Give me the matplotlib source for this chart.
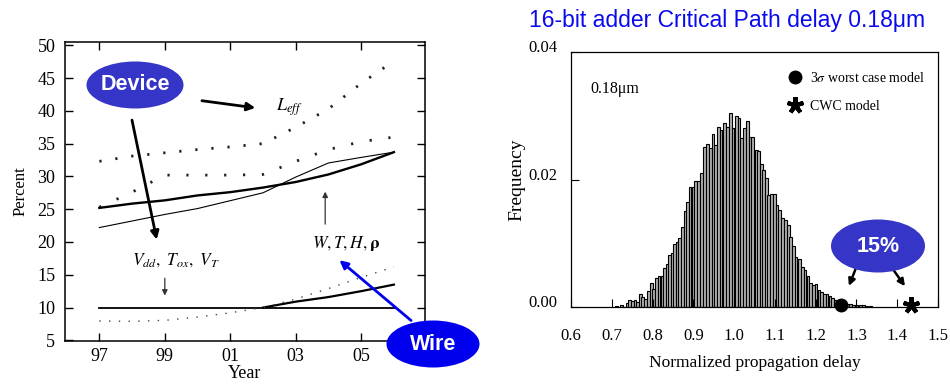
import numpy as np
import matplotlib
matplotlib.use("Agg")
from matplotlib import pyplot as plt
from matplotlib.patches import Ellipse
from matplotlib.transforms import ScaledTranslation

plt.rcParams['font.family'] = ['Liberation Serif', 'DejaVu Serif']
plt.rcParams['mathtext.fontset'] = 'stix'

# left chart: percent variation per year (97 .. 06)
jahre = [97, 98, 99, 100, 101, 102, 103, 104, 105, 106]
jahr_ticks = [97, 99, 101, 103, 105]
jahr_labels = ["97", "99", "01", "03", "05"]
leff = [32.3, 33.1, 33.6, 34.1, 34.5, 35.0, 37.5, 40.3, 44.2, 47.6]
mitte_punkte = [25.3, 27.6, 30.2, 30.2, 30.2, 30.3, 32.3, 34.1, 35.3, 36.0]
dick = [25.2, 25.85, 26.35, 27.1, 27.6, 28.3, 29.15, 30.3, 31.85, 33.7]
duenn = [22.2, 23.2, 24.2, 25.1, 26.3, 27.5, 29.9, 32.05, 32.9, 33.7]
vdd_linie = [10, 10, 10, 10, 10, 10, 10, 10, 10, 10]
draht_jahre = [102, 103, 104, 105, 106]
draht = [10.0, 10.9, 11.6, 12.5, 13.5]
unten_punkte = [7.95, 7.9, 8.05, 8.55, 9.2, 10.0, 11.3, 12.9, 14.6, 16.2]

# right chart: histogram of normalized delay
verzoegerung = [0.712, 0.724, 0.738, 0.744, 0.750, 0.757, 0.763, 0.770, 0.776, 0.782,
                0.790, 0.797, 0.803, 0.809, 0.816, 0.823, 0.830, 0.836, 0.842, 0.848,
                0.854, 0.860, 0.866, 0.873, 0.880, 0.886, 0.892, 0.899, 0.906, 0.913,
                0.920, 0.927, 0.935, 0.942, 0.948, 0.955, 0.961, 0.968, 0.976, 0.983,
                0.991, 0.997, 1.005, 1.012, 1.018, 1.026, 1.032, 1.039, 1.046, 1.054,
                1.060, 1.067, 1.073, 1.079, 1.085, 1.092, 1.099, 1.105, 1.111, 1.119,
                1.126, 1.133, 1.139, 1.146, 1.152, 1.160, 1.167, 1.174, 1.181, 1.188,
                1.194, 1.201, 1.208, 1.215, 1.222, 1.228, 1.235, 1.241, 1.248, 1.255,
                1.262, 1.270, 1.278, 1.285, 1.292, 1.300, 1.310, 1.318, 1.326, 1.334]
haeufigkeit = [0.0002, 0.0003, 0.0007, 0.0011, 0.0010, 0.0011, 0.0008, 0.0020, 0.0016, 0.0013,
               0.0025, 0.0038, 0.0029, 0.0045, 0.0049, 0.0049, 0.0061, 0.0068, 0.0081, 0.0084,
               0.0099, 0.0102, 0.0109, 0.0125, 0.0151, 0.0164, 0.0188, 0.0189, 0.0198, 0.0197,
               0.0210, 0.0251, 0.0255, 0.0250, 0.0272, 0.0254, 0.0283, 0.0278, 0.0288, 0.0283,
               0.0305, 0.0281, 0.0300, 0.0297, 0.0265, 0.0281, 0.0291, 0.0266, 0.0267, 0.0246,
               0.0244, 0.0225, 0.0215, 0.0203, 0.0176, 0.0178, 0.0178, 0.0160, 0.0152, 0.0139,
               0.0136, 0.0129, 0.0110, 0.0095, 0.0079, 0.0076, 0.0063, 0.0058, 0.0048, 0.0037,
               0.0035, 0.0036, 0.0027, 0.0024, 0.0021, 0.0020, 0.0017, 0.0014, 0.0011, 0.0009,
               0.0007, 0.0005, 0.0004, 0.0004, 0.0003, 0.0003, 0.0003, 0.0003, 0.0002, 0.0002]
x_ticks = [0.6, 0.7, 0.8, 0.9, 1.0, 1.1, 1.2, 1.3, 1.4, 1.5]
x_labels = ["0.6", "0.7", "0.8", "0.9", "1.0", "1.1", "1.2", "1.3", "1.4", "1.5"]
y_ticks = [0.00, 0.02, 0.04]
sigma3 = 1.263
cwc = 1.435

fig = plt.figure(figsize=(9.5, 3.84), dpi=100)

# ---------------- left ----------------
ax = fig.add_axes([65/950, 1-341/384, 360/950, 299/384])
ax.plot(jahre, leff, color='#222222', lw=2.0, linestyle=(0, (0.8, 5.0)))
ax.plot(jahre, mitte_punkte, color='#222222', lw=2.0, linestyle=(0, (0.8, 6.0)))
ax.plot(jahre, dick, color='black', lw=1.7)
ax.plot(jahre, duenn, color='black', lw=0.8)
ax.plot(jahre, vdd_linie, color='black', lw=1.3)
ax.plot(draht_jahre, draht, color='black', lw=1.6)
ax.plot(jahre, unten_punkte, color='#444444', lw=1.0, linestyle=(0, (1, 6)))

ax.set_xlim(95.95, 106.95)
ax.set_ylim(4.9, 50.5)
ax.set_xticks(jahr_ticks, labels=jahr_labels)
ax.set_yticks(range(5, 51, 5))
ax.tick_params(direction='in', length=6, width=1, top=True, right=True, labelsize=13)
ax.tick_params(axis='x', pad=5)
ax.tick_params(axis='y', pad=7)
ax.set_xlabel("Year", fontsize=13, labelpad=0)
ax.set_ylabel("Percent", fontsize=12, labelpad=6)
for s in ax.spines.values():
    s.set_linewidth(1.1)

ax.text(102.4, 40.5, r'$L_{eff}$', fontsize=13, va='center')
ax.text(98.0, 17.2, r'$V_{dd},\ T_{ox},\ V_T$', fontsize=12.5, va='center')
ax.text(103.5, 19.8, r'$W,T,H,\mathbf{\rho}$', fontsize=12.5, va='center')
ax.annotate('', xy=(99, 11.4), xytext=(99, 14.9),
            arrowprops=dict(arrowstyle='-|>', lw=0.9, color='#333333', mutation_scale=8))
ax.annotate('', xy=(103.9, 28.1), xytext=(103.9, 22.3),
            arrowprops=dict(arrowstyle='-|>', lw=0.9, color='#333333', mutation_scale=8))
# Device / Wire arrows
ax.annotate('', xy=(101.85, 40.4), xytext=(100.05, 41.6),
            arrowprops=dict(arrowstyle='-|>', lw=2, color='black', mutation_scale=12))
ax.annotate('', xy=(98.77, 19.95), xytext=(97.98, 39.0),
            arrowprops=dict(arrowstyle='-|>', lw=2, color='black', mutation_scale=12))
ax.annotate('', xy=(104.27, 17.5), xytext=(106.59, 7.75),
            arrowprops=dict(arrowstyle='-|>', lw=2, color='#0000ee', mutation_scale=12))

# ---------------- right ----------------
ax2 = fig.add_axes([571/950, 1-307/384, 367/950, 255/384])
ax2.bar(verzoegerung, haeufigkeit, width=0.0068, color='#b0b0b0', edgecolor='black', linewidth=0.8)
ax2.plot([sigma3], [0.0003], 'o', color='black', markersize=9, clip_on=False,
         label=r'3$\sigma$ worst case model')
ax2.plot([cwc], [0.0003], marker=(5, 2, 0), color='black', markersize=12, markeredgewidth=3,
         linestyle='none', clip_on=False, label='CWC model')
ax2.set_xlim(0.6, 1.5)
ax2.set_ylim(0, 0.04)
ax2.set_xticks(x_ticks, labels=x_labels)
ax2.set_yticks(y_ticks, labels=["%.2f" % v for v in y_ticks])
ax2.tick_params(direction='in', length=6, width=0.8, labelsize=12)
ax2.tick_params(axis='x', pad=15)
ax2.tick_params(axis='y', pad=10)
for lab in ax2.get_yticklabels():
    lab.set_transform(lab.get_transform() + ScaledTranslation(0, 4/72, fig.dpi_scale_trans))
ax2.set_xlabel("Normalized propagation delay", fontsize=12.5, labelpad=8)
ax2.set_ylabel("Frequency", fontsize=14, labelpad=2)
for s in ax2.spines.values():
    s.set_linewidth(0.9)
ax2.text(0.052, 0.855, '0.18\u03bcm', transform=ax2.transAxes, fontsize=11.5, va='center')
leg = ax2.legend(loc='upper right', bbox_to_anchor=(1.0, 0.975), frameon=False, fontsize=10,
                 handlelength=1.2, handletextpad=0.5, labelspacing=1.1, markerscale=1.0)
ax2.annotate('', xy=(1.279, 0.0029), xytext=(1.300, 0.0063),
             arrowprops=dict(arrowstyle='-|>', lw=1.8, color='black', mutation_scale=10))
ax2.annotate('', xy=(1.423, 0.0029), xytext=(1.382, 0.0066),
             arrowprops=dict(arrowstyle='-|>', lw=1.8, color='black', mutation_scale=10))

# ---------------- callouts ----------------
def blase(cx, cy, w, h, farbe, text):
    e = Ellipse((cx/950, 1-cy/384), w/950, h/384, transform=fig.transFigure,
                facecolor=farbe, edgecolor='none', zorder=5)
    fig.patches.append(e)
    fig.text(cx/950, 1-cy/384, text, color='white', fontsize=15.5, fontweight='bold',
             family='Liberation Sans', ha='center', va='center', zorder=6)

blase(135, 85, 97, 47, '#3535c8', 'Device')
blase(433, 344, 93, 47, '#0000ee', 'Wire')
blase(878, 246, 94, 53, '#3535c8', '15%')

fig.text(727/950, 1-20/384, "16-bit adder Critical Path delay 0.18\u03bcm", color='#0a0aee',
         fontsize=16.5, family='Liberation Sans', ha='center', va='center')

fig.savefig('out.png', dpi=100)
